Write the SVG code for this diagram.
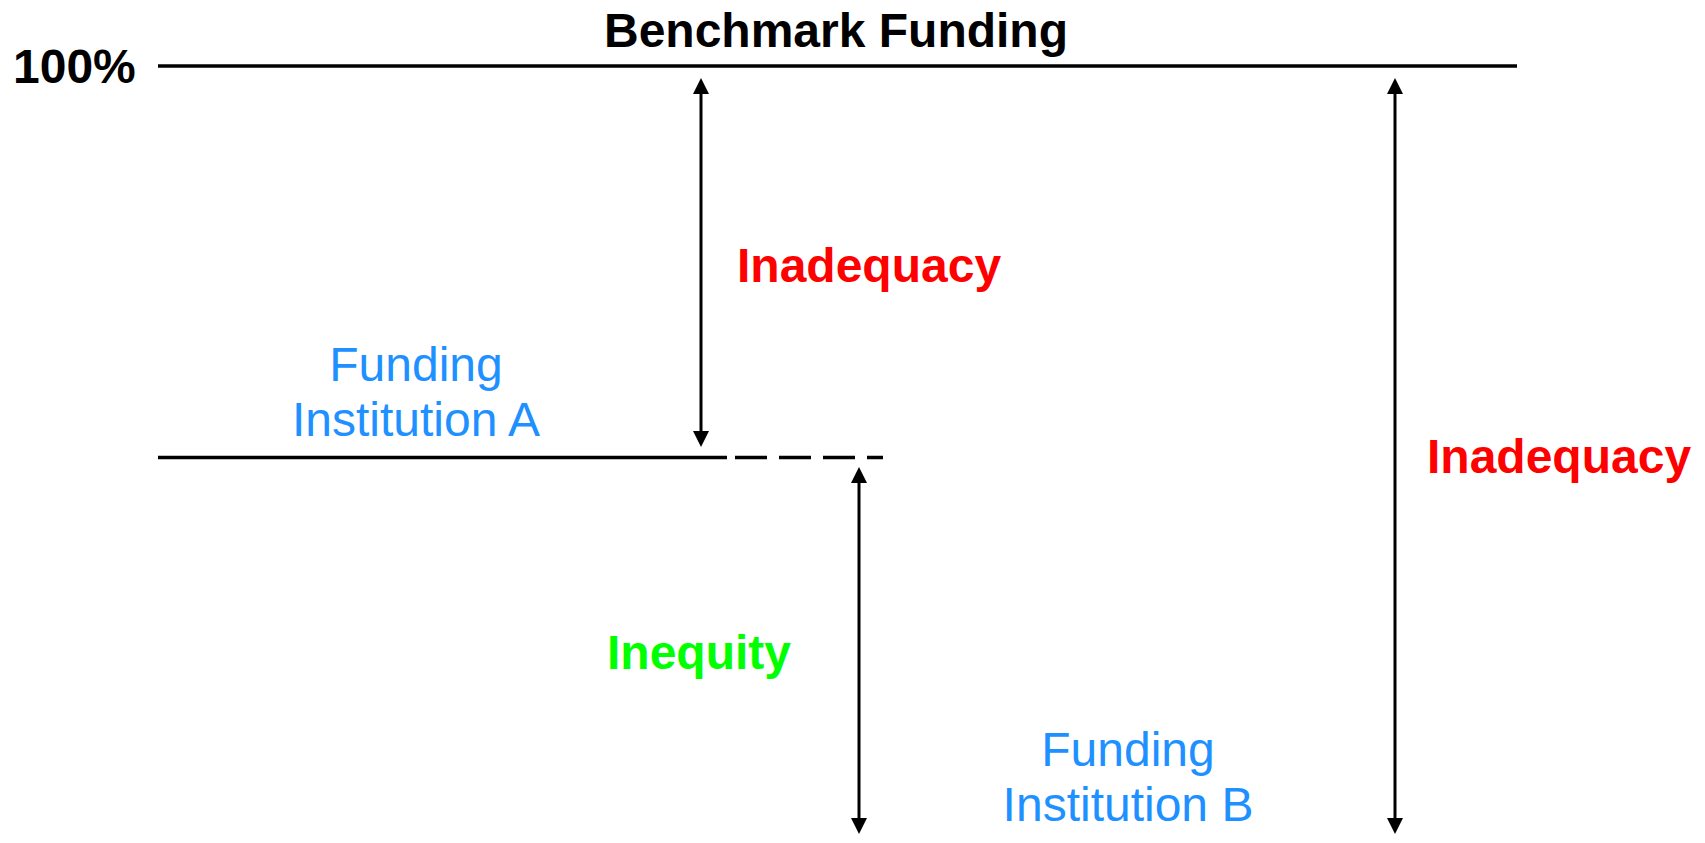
<svg xmlns="http://www.w3.org/2000/svg" width="1705" height="843" viewBox="0 0 1705 843">
<defs>
<style>
.bold{font-family:"Liberation Sans",Arial,sans-serif;font-weight:bold;font-size:48px}
.reg{font-family:"Liberation Sans",Arial,sans-serif;font-size:48px;fill:#1e90ff}
.red{fill:#ff0000}
.ln{stroke:#000;stroke-width:3.5;fill:none}
.arr{stroke:#000;stroke-width:3;fill:none;marker-start:url(#ah);marker-end:url(#ah)}
</style>
<marker id="ah" markerUnits="userSpaceOnUse" markerWidth="16" markerHeight="16" refX="0" refY="7.5" orient="auto-start-reverse" viewBox="0 0 15 15">
<path d="M0,0 L15,7.5 L0,15 z" fill="#000"/>
</marker>
</defs>
<rect width="1705" height="843" fill="#fff"/>
<g id="title"><text class="bold" x="836" y="47" text-anchor="middle">Benchmark Funding</text></g>
<g id="label-100"><text class="bold" x="13" y="83">100%</text></g>
<g id="benchmark-line"><line class="ln" x1="158" y1="66" x2="1517" y2="66"/></g>
<g id="institution-a-line">
<line class="ln" x1="158" y1="457.5" x2="727" y2="457.5"/>
<line class="ln" x1="735" y1="457.5" x2="883" y2="457.5" stroke-dasharray="32 12"/>
</g>
<g id="institution-a"><text class="reg" text-anchor="middle"><tspan x="416" y="381">Funding</tspan><tspan x="416" y="436">Institution A</tspan></text></g>
<g id="institution-b"><text class="reg" text-anchor="middle"><tspan x="1128" y="766">Funding</tspan><tspan x="1128" y="821">Institution B</tspan></text></g>
<g id="inadequacy-a"><text class="bold red" x="737" y="282">Inadequacy</text></g>
<g id="inadequacy-b"><text class="bold red" x="1427" y="473">Inadequacy</text></g>
<g id="inequity"><text class="bold" x="607" y="669" fill="#00ff00">Inequity</text></g>
<g id="connectors">
<line class="arr" x1="701" y1="94" x2="701" y2="431"/>
<line class="arr" x1="859" y1="483" x2="859" y2="818"/>
<line class="arr" x1="1395" y1="94" x2="1395" y2="818"/>
</g>
</svg>
